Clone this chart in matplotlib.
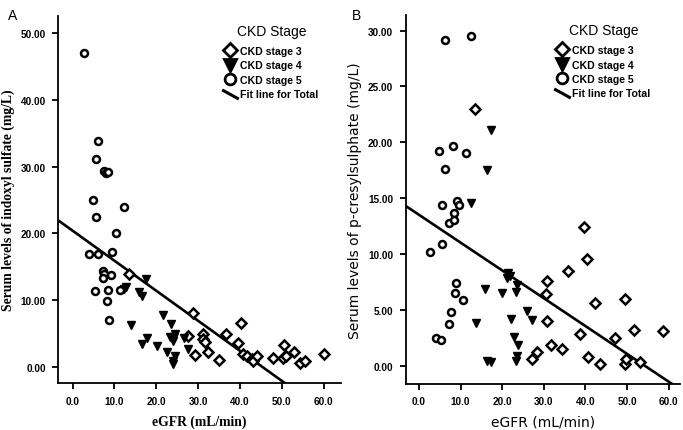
"""Indoxyl sulfate and p-cresylsulphate vs eGFR by CKD stage."""

import matplotlib

matplotlib.use("Agg")
import matplotlib.pyplot as plt
import numpy as np
from matplotlib.lines import Line2D
from matplotlib.path import Path

# ---- Panel A: indoxyl sulfate (mg/L) ----
a_stage3_egfr = [13.5, 27.7, 28.7, 29.3, 31.1, 31.2, 31.6, 32.4, 35.1, 36.8, 39.5, 40.3,
                 40.8, 41.6, 42.8, 43.2, 44.2, 48.0, 50.6, 50.4, 51.0, 53.0, 54.4, 55.6, 60.1]
a_stage3_is = [13.9, 4.55, 8.1, 1.75, 4.9, 4.15, 3.65, 2.2, 1.0, 4.9, 3.6, 6.5,
               1.9, 1.65, 1.15, 0.9, 1.65, 1.3, 3.3, 1.25, 1.65, 2.2, 0.5, 0.9, 1.9]

a_stage4_egfr = [12.2, 12.7, 17.5, 15.9, 16.5, 13.9, 21.7, 23.5, 23.4, 23.9, 24.3, 24.6,
                 17.7, 16.5, 20.1, 22.6, 24.5, 24.1, 23.9, 26.6, 27.7]
a_stage4_is = [11.7, 12.0, 13.15, 11.15, 10.65, 6.3, 7.8, 6.4, 4.4, 3.9, 4.5, 4.9,
               4.25, 3.4, 3.15, 2.25, 1.65, 0.9, 0.4, 4.25, 2.65]

a_stage5_egfr = [2.7, 6.2, 5.7, 7.4, 8.0, 8.4, 4.8, 12.4, 5.7, 10.5, 9.5, 3.9, 6.1,
                 7.3, 7.5, 7.3, 9.1, 5.3, 8.5, 8.3, 8.8, 11.3]
a_stage5_is = [47.0, 33.9, 31.2, 29.3, 29.0, 29.2, 25.0, 23.9, 22.4, 20.0, 17.2, 16.9, 16.9,
               14.4, 13.9, 13.25, 13.75, 11.4, 11.55, 9.9, 7.0, 11.55]

a_fit = (20.4, -0.45)  # intercept, slope of the total fit line

# ---- Panel B: p-cresylsulphate (mg/L) ----
b_stage3_egfr = [13.5, 30.7, 30.5, 30.7, 35.9, 39.7, 40.4, 42.3, 49.6, 51.7, 58.6, 38.6,
                 47.0, 31.7, 34.3, 27.1, 28.3, 40.6, 43.4, 49.4, 49.8, 53.2]
b_stage3_pcs = [23.0, 7.55, 6.4, 4.0, 8.5, 12.4, 9.55, 5.6, 6.0, 3.2, 3.1, 2.8,
                2.5, 1.8, 1.5, 0.6, 1.2, 0.75, 0.15, 0.15, 0.6, 0.35]

b_stage4_egfr = [17.2, 16.3, 12.6, 15.8, 13.8, 19.9, 23.3, 21.4, 21.9, 21.1, 23.6, 26.0,
                 27.1, 22.1, 22.9, 23.9, 23.5, 23.3, 16.4, 17.4]
b_stage4_pcs = [21.1, 17.5, 14.6, 6.9, 3.8, 6.5, 6.6, 8.3, 8.0, 7.8, 7.2, 4.85,
                4.1, 4.2, 2.6, 1.8, 0.9, 0.45, 0.4, 0.3]

b_stage5_egfr = [6.2, 12.45, 4.7, 8.2, 11.2, 6.3, 5.6, 9.2, 9.6, 8.4, 7.2, 8.4, 2.6,
                 5.6, 8.8, 8.6, 10.6, 7.6, 7.2, 4.0, 5.3]
b_stage5_pcs = [29.2, 29.5, 19.2, 19.7, 19.0, 17.6, 14.4, 14.7, 14.4, 13.7, 12.8, 13.0, 10.2,
                10.9, 7.4, 6.5, 5.9, 4.8, 3.7, 2.45, 2.25]

b_fit = (13.5, -0.249)

x_ticks = np.arange(0, 70, 10)
a_y_ticks = np.arange(0, 60, 10)
b_y_ticks = np.arange(0, 35, 5)

TICK_FONT = ["Liberation Sans", "DejaVu Sans"]

# slanted line used as the legend symbol for the fit line
FIT_MARKER = Path([(-1.0, 0.55), (1.0, -0.55)], [Path.MOVETO, Path.LINETO])

STYLES = {
    "CKD stage 3": dict(marker="D", ms=4.8, mfc="white", mec="black", mew=1.8),
    "CKD stage 4": dict(marker="v", ms=6.0, mfc="black", mec="black", mew=1.0),
    "CKD stage 5": dict(marker="o", ms=5.0, mfc="white", mec="black", mew=1.8),
}


def draw_panel(ax, groups, fit, xlim, ylim, yticks, ylabel, label_font, legend_x):
    for name, (xs, ys) in groups.items():
        ax.plot(xs, ys, linestyle="none", zorder=3, **STYLES[name])

    fit_x = np.array(xlim)
    intercept, slope = fit
    ax.plot(fit_x, intercept + slope * fit_x, color="black", lw=1.9, zorder=2)

    ax.set_xlim(*xlim)
    ax.set_ylim(*ylim)
    ax.set_xticks(x_ticks)
    ax.set_xticklabels([f"{v:.1f}" for v in x_ticks])
    ax.set_yticks(yticks)
    ax.set_yticklabels([f"{v:.2f}" for v in yticks])
    for lab in ax.get_xticklabels() + ax.get_yticklabels():
        lab.set_family(TICK_FONT)
        lab.set_fontweight("bold")
        lab.set_fontsize(7.2)

    ax.spines["top"].set_visible(False)
    ax.spines["right"].set_visible(False)
    ax.spines["left"].set_linewidth(1.3)
    ax.spines["bottom"].set_linewidth(1.3)
    ax.tick_params(direction="out", length=4, width=1.3, pad=5)

    ax.set_ylabel(ylabel, **label_font)
    ax.set_xlabel("eGFR (mL/min)", labelpad=6, **label_font)

    handles = []
    for name, style in STYLES.items():
        big = dict(style)
        big["ms"] = style["ms"] * 1.55
        big["mew"] = 2.0
        handles.append(Line2D([], [], linestyle="none", label=name, **big))
    handles.append(Line2D([], [], linestyle="none", marker=FIT_MARKER, ms=12,
                          mec="black", mew=2.2, label="Fit line for Total"))
    leg = ax.legend(handles=handles, title="CKD Stage", loc="upper left",
                    bbox_to_anchor=(legend_x, 0.99), frameon=False,
                    handlelength=1.0, handletextpad=0.45, labelspacing=0.42,
                    borderaxespad=0.0,
                    prop={"family": TICK_FONT, "weight": "bold", "size": 7.6})
    leg.get_title().set_fontsize(10)
    leg.get_title().set_family(["Liberation Sans", "DejaVu Sans"])
    leg._legend_box.align = "center"
    leg._legend_box.sep = 6


fig = plt.figure(figsize=(6.83, 4.31), dpi=100)
ax_a = fig.add_axes([0.0854, 0.108, 0.414, 0.853])
ax_b = fig.add_axes([0.594, 0.107, 0.402, 0.856])

draw_panel(
    ax_a,
    {
        "CKD stage 3": (a_stage3_egfr, a_stage3_is),
        "CKD stage 4": (a_stage4_egfr, a_stage4_is),
        "CKD stage 5": (a_stage5_egfr, a_stage5_is),
    },
    a_fit, (-3.4, 64.2), (-2.5, 52.6), a_y_ticks,
    "Serum levels of indoxyl sulfate (mg/L)",
    {"family": ["Liberation Serif", "DejaVu Serif"], "fontweight": "bold", "fontsize": 9.8},
    0.575,
)
draw_panel(
    ax_b,
    {
        "CKD stage 3": (b_stage3_egfr, b_stage3_pcs),
        "CKD stage 4": (b_stage4_egfr, b_stage4_pcs),
        "CKD stage 5": (b_stage5_egfr, b_stage5_pcs),
    },
    b_fit, (-3.2, 62.8), (-1.64, 31.4), b_y_ticks,
    "Serum levels of p-cresylsulphate (mg/L)",
    {"family": ["DejaVu Sans"], "fontsize": 10},
    0.535,
)

fig.text(0.012, 0.98, "A", fontsize=10, va="top", family=["Liberation Sans", "DejaVu Sans"])
fig.text(0.515, 0.98, "B", fontsize=10, va="top", family=["Liberation Sans", "DejaVu Sans"])

fig.savefig("out.png", dpi=100)
plt.close(fig)
